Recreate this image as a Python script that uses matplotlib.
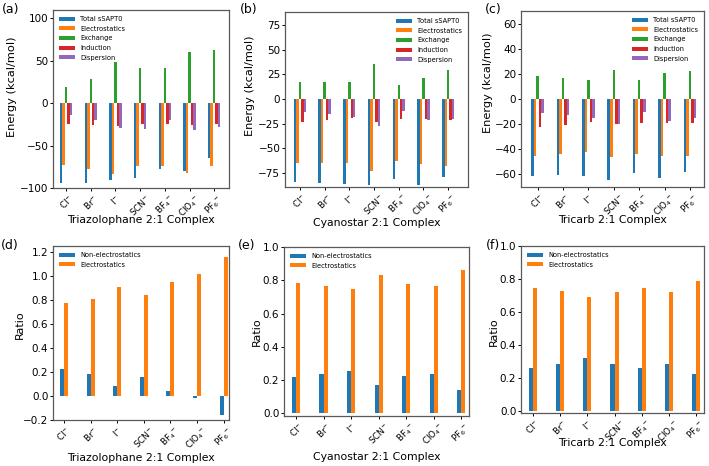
import numpy as np
import matplotlib
matplotlib.use("Agg")
import matplotlib.pyplot as plt

anions = ['Cl$^{-}$', 'Br$^{-}$', 'I$^{-}$', 'SCN$^{-}$', 'BF$_4$$^{-}$', 'ClO$_4$$^{-}$', 'PF$_6$$^{-}$']
components = ['Total sSAPT0', 'Electrostatics', 'Exchange', 'Induction', 'Dispersion']
ratio_names = ['Non-electrostatics', 'Electrostatics']

# Triazolophane 2:1
tri_total = [-94, -94, -91, -88, -78, -80, -65]
tri_elec = [-73, -77, -83, -74, -74, -82, -74]
tri_exch = [19, 29, 49, 41, 41, 60, 63]
tri_ind = [-25, -26, -27, -24, -25, -26, -24]
tri_disp = [-14, -20, -29, -30, -20, -32, -28]

# Cyanostar 2:1
cyan_total = [-84, -85, -86, -87, -81, -86.5, -78.5]
cyan_elec = [-65, -64.5, -64.5, -72.5, -63, -66, -67.5]
cyan_exch = [17.5, 17, 17, 35, 14, 21.5, 29.5]
cyan_ind = [-23, -21, -19.5, -23, -20, -20, -21]
cyan_disp = [-13, -15, -18.5, -27, -12, -21, -20]

# Tricarb 2:1
tric_total = [-61, -60.5, -61, -64.5, -58.5, -63, -58]
tric_elec = [-45.5, -43.5, -42, -46.5, -43.5, -45.5, -45.5]
tric_exch = [18, 17, 15.5, 22.7, 15.3, 21, 22.3]
tric_ind = [-22.5, -20.5, -18, -19.5, -19.3, -19.3, -18.8]
tric_disp = [-11, -13, -15.5, -20, -10.3, -17.7, -15.3]

# Ratios
tri_nonelec_ratio = [0.223, 0.184, 0.087, 0.156, 0.042, -0.02, -0.16]
tri_elec_ratio = [0.776, 0.812, 0.91, 0.84, 0.952, 1.013, 1.155]
cyan_nonelec_ratio = [0.218, 0.234, 0.252, 0.172, 0.226, 0.236, 0.14]
cyan_elec_ratio = [0.784, 0.768, 0.75, 0.832, 0.776, 0.766, 0.862]
tric_nonelec_ratio = [0.259, 0.28, 0.317, 0.285, 0.26, 0.285, 0.219]
tric_elec_ratio = [0.745, 0.725, 0.689, 0.723, 0.745, 0.721, 0.787]

colors = ['tab:blue', 'tab:orange', 'tab:green', 'tab:red', 'tab:purple']

W, H = 709, 466
fig = plt.figure(figsize=(W / 100, H / 100), dpi=100)


def px_axes(x0, y0, x1, y1):
    return fig.add_axes([x0 / W, 1 - y1 / H, (x1 - x0) / W, (y1 - y0) / H])


def style(ax, xl, yl, ylabel_size):
    for s in ax.spines.values():
        s.set_color('0.35')
        s.set_linewidth(0.9)
    ax.tick_params(axis='y', labelsize=7.5, length=2.2, width=0.7, pad=1.2)
    ax.tick_params(axis='x', labelsize=6.3, length=2.2, width=0.7, pad=1.2)
    ax.xaxis.set_label_coords(*xl)
    ax.xaxis.label.set_verticalalignment('center')
    ax.xaxis.label.set_fontsize(7.8)
    ax.yaxis.set_label_coords(*yl)
    ax.yaxis.label.set_verticalalignment('center')
    ax.yaxis.label.set_fontsize(ylabel_size)


def energy_panel(ax, series, xlabel, ylim, yticks, xlim, legloc, xl, yl):
    x = np.arange(len(anions))
    w = 0.1
    for i, (vals, c, lab) in enumerate(zip(series, colors, components)):
        ax.bar(x - 0.25 + (i + 0.5) * w, vals, w, color=c, label=lab)
    ax.set_xticks(x)
    ax.set_xticklabels(anions, rotation=45)
    ax.set_xlim(*xlim)
    ax.set_ylim(*ylim)
    ax.set_yticks(yticks)
    ax.set_xlabel(xlabel)
    ax.set_ylabel('Energy (kcal/mol)')
    style(ax, xl, yl, 8.2)
    ax.legend(loc=legloc, fontsize=4.8, frameon=False, handlelength=2.4,
              handleheight=0.6, labelspacing=0.55)


def ratio_panel(ax, series, xlabel, ylim, yticks, xlim, xl, yl):
    x = np.arange(len(anions))
    w = 0.15
    for i, (vals, c, lab) in enumerate(zip(series, colors, ratio_names)):
        ax.bar(x - w + (i + 0.5) * w, vals, w, color=c, label=lab)
    ax.set_xticks(x)
    ax.set_xticklabels(anions, rotation=45)
    ax.set_xlim(*xlim)
    ax.set_ylim(*ylim)
    ax.set_yticks(yticks)
    ax.set_xlabel(xlabel)
    ax.set_ylabel('Ratio')
    style(ax, xl, yl, 8)
    ax.legend(loc='upper left', fontsize=4.8, frameon=False, handlelength=2.4,
              handleheight=0.6, labelspacing=0.55)


ax_a = px_axes(53, 10, 229, 188)
energy_panel(ax_a, [tri_total, tri_elec, tri_exch, tri_ind, tri_disp],
             'Triazolophane 2:1 Complex', (-100, 110), [-100, -50, 0, 50, 100],
             (-0.53, 6.6), 'upper left', (0.5, -0.18), (-0.235, 0.57))
ax_b = px_axes(285, 12, 468, 187)
energy_panel(ax_b, [cyan_total, cyan_elec, cyan_exch, cyan_ind, cyan_disp],
             'Cyanostar 2:1 Complex', (-89, 88), [-75, -50, -25, 0, 25, 50, 75],
             (-0.6, 6.8), 'upper right', (0.5, -0.206), (-0.19, 0.58))
ax_c = px_axes(521, 11, 704, 187)
energy_panel(ax_c, [tric_total, tric_elec, tric_exch, tric_ind, tric_disp],
             'Tricarb 2:1 Complex', (-70, 70), [-60, -40, -20, 0, 20, 40, 60],
             (-0.65, 6.55), 'upper right', (0.5, -0.1875), (-0.18, 0.59))

ax_d = px_axes(53, 246, 229, 420)
ratio_panel(ax_d, [tri_nonelec_ratio, tri_elec_ratio], 'Triazolophane 2:1 Complex',
            (-0.2, 1.25), [-0.2, 0.0, 0.2, 0.4, 0.6, 0.8, 1.0, 1.2], (-0.41, 6.2),
            (0.5, -0.218), (-0.19, 0.546))
ax_e = px_axes(284, 247, 469, 416)
ratio_panel(ax_e, [cyan_nonelec_ratio, cyan_elec_ratio], 'Cyanostar 2:1 Complex',
            (-0.016, 1.0), [0.0, 0.2, 0.4, 0.6, 0.8, 1.0], (-0.435, 6.28),
            (0.5, -0.243), (-0.145, 0.5))
ax_f = px_axes(521, 246, 704, 413)
ratio_panel(ax_f, [tric_nonelec_ratio, tric_elec_ratio], 'Tricarb 2:1 Complex',
            (-0.015, 1.0), [0.0, 0.2, 0.4, 0.6, 0.8, 1.0], (-0.43, 6.28),
            (0.5, -0.18), (-0.148, 0.485))

for lab, (x, y) in zip(['(a)', '(b)', '(c)', '(d)', '(e)', '(f)'],
                       [(2, 3), (240, 3), (485, 3), (1, 239), (238, 239), (486, 239)]):
    fig.text(x / W, 1 - y / H, lab, fontsize=9, ha='left', va='top')

fig.savefig('out.png', dpi=100)
